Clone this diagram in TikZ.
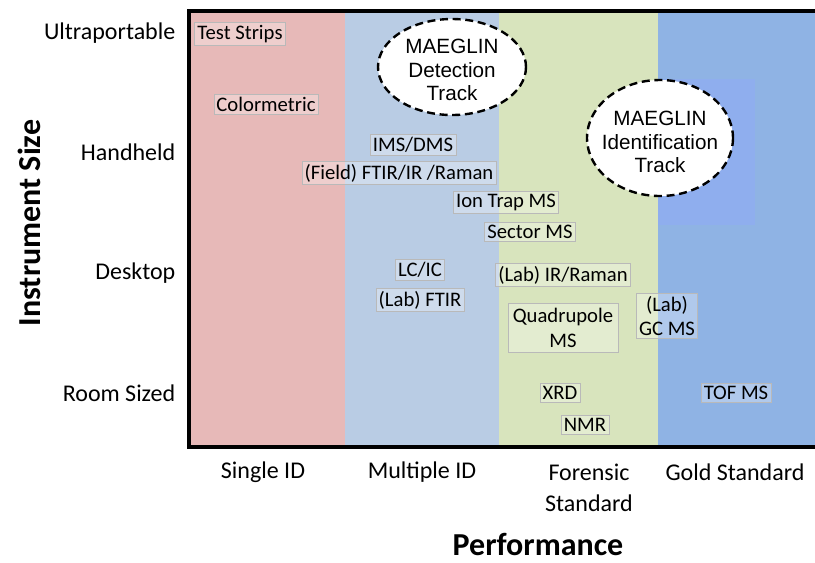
\documentclass[tikz,border=0pt]{standalone}
\usepackage{fontspec}
\setmainfont{Carlito}
\newfontfamily\arialfont{Liberation Sans}
\usepackage{tikz}

\definecolor{singleid}{HTML}{E7B9B8}
\definecolor{multiid}{HTML}{B9CCE4}
\definecolor{forensic}{HTML}{D8E4BD}
\definecolor{gold}{HTML}{8FB3E4}
\definecolor{goldhi}{HTML}{8FAEEE}

\begin{document}
\begin{tikzpicture}[x=0.75pt,y=-0.75pt,
  dev/.style={draw=gray!55, fill=white, fill opacity=0.3, text opacity=1,
    inner sep=2pt, align=center, font=\fontsize{15.5}{18.5}\selectfont},
  tracktext/.style={align=center, font=\arialfont\fontsize{15.5}{17.5}\selectfont},
  trackline/.style={draw=black, fill=white, line width=1.8pt, dash pattern=on 6pt off 3.5pt},
  sizelab/.style={anchor=east, font=\fontsize{18}{22}\selectfont},
  perflab/.style={align=center, font=\fontsize{18}{23}\selectfont},
  axistitle/.style={font=\bfseries\fontsize{24}{28}\selectfont}]
\useasboundingbox (0,0) rectangle (815,562);

\fill[singleid] (190,11) rectangle (345,447);
\fill[multiid] (345,11) rectangle (499,447);
\fill[forensic] (499,11) rectangle (658,447);
\fill[gold] (658,11) rectangle (818,447);
\fill[goldhi] (658,79) rectangle (755,225);
\draw[line width=2.4pt] (189,11) rectangle (820,447);

\node[sizelab] (ultra) at (180,33) {Ultraportable};
\node[sizelab] (hand) at (180,152) {Handheld};
\node[sizelab] (desk) at (180,273) {Desktop};
\node[sizelab] (room) at (180,393) {Room Sized};

\node[perflab] (single) at (263,472) {Single ID};
\node[perflab] (multiple) at (422,472) {Multiple ID};
\node[perflab] (forens) at (589,488) {Forensic\\Standard};
\node[perflab] (goldstd) at (735,472) {Gold Standard};

\node[axistitle, anchor=base] (perf) at (538,555) {Performance};
\node[axistitle, rotate=90] (isize) at (29,223) {Instrument Size};

\draw[trackline] (452,67) ellipse [x radius=74, y radius=48];
\node[tracktext] (dettrack) at (452,70) {MAEGLIN\\Detection\\Track};
\draw[trackline] (660,138) ellipse [x radius=73, y radius=58];
\node[tracktext] (idtrack) at (660,142) {MAEGLIN\\Identification\\Track};

\node[dev] (strips) at (240,34) {Test Strips};
\node[dev] (color) at (266,104) {Colormetric};
\node[dev] (ims) at (413,145) {IMS/DMS};
\node[dev] (fieldir) at (399,173) {(Field) FTIR/IR /Raman};
\node[dev] (iontrap) at (506,202) {Ion Trap MS};
\node[dev] (sector) at (530,232) {Sector MS};
\node[dev] (lcic) at (420,270) {LC/IC};
\node[dev] (labftir) at (420,300) {(Lab) FTIR};
\node[dev] (labir) at (563,275) {(Lab) IR/Raman};
\node[dev, inner sep=3.5pt] (quad) at (563,328) {Quadrupole\\MS};
\node[dev] (gcms) at (667,316) {(Lab)\\GC MS};
\node[dev] (xrd) at (560,393) {XRD};
\node[dev] (nmr) at (585,425) {NMR};
\node[dev] (tof) at (736,393) {TOF MS};
\end{tikzpicture}
\end{document}
